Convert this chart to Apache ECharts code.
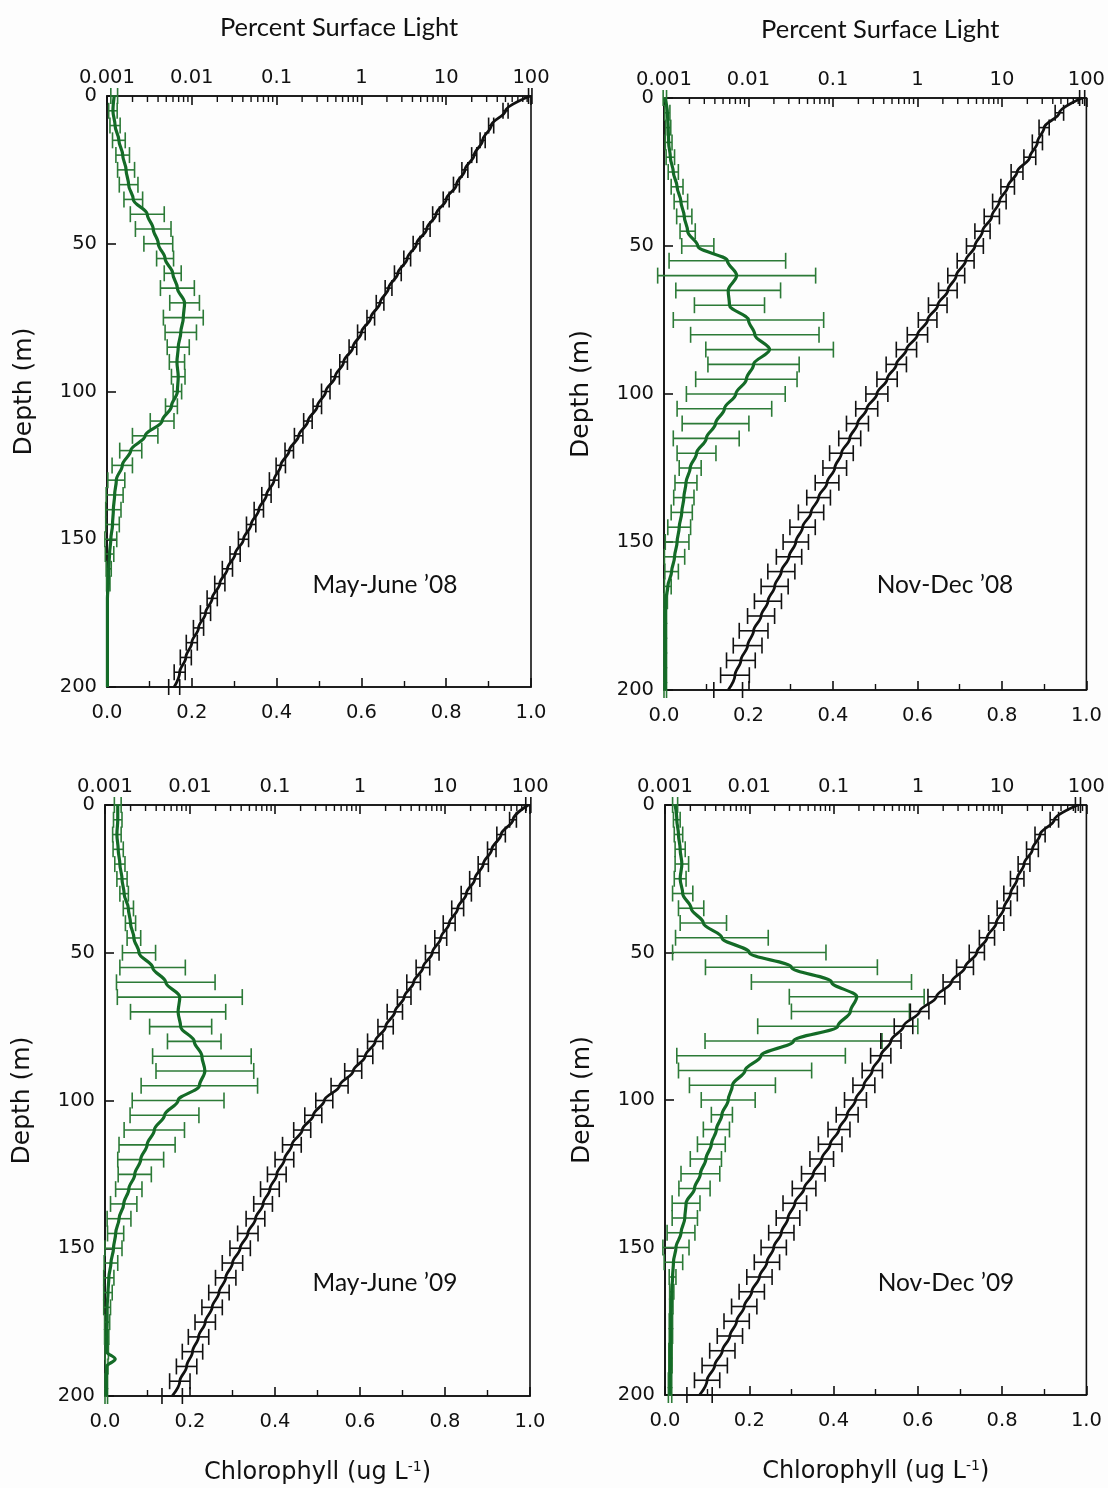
<!DOCTYPE html>
<html><head><meta charset="utf-8">
<script src="https://cdn.jsdelivr.net/npm/echarts@6/dist/echarts.min.js"></script>
<style>html,body{margin:0;padding:0;background:#fdfdfd;}#c{width:1108px;height:1488px;}</style>
</head><body><div id="c"></div>
<script>
// ---------- data (depth in m, every 5 m) ----------
const depths = [0,5,10,15,20,25,30,35,40,45,50,55,60,65,70,75,80,85,90,95,100,105,110,115,120,125,130,135,140,145,150,155,160,165,170,175,180,185,190,195,200];

// Chlorophyll (ug/L), bottom axis
const chlMJ08 = [0.017,0.014,0.019,0.028,0.037,0.045,0.051,0.062,0.095,0.109,0.121,0.137,0.155,0.166,0.183,0.18,0.174,0.168,0.165,0.168,0.166,0.152,0.13,0.09,0.056,0.036,0.022,0.018,0.015,0.013,0.009,0.006,0.004,0.003,0.001,0.001,0.001,0.001,0.001,0.001,0.001];
const chlErrMJ08 = [0.008,0.01,0.012,0.015,0.016,0.02,0.022,0.022,0.04,0.042,0.034,0.02,0.02,0.04,0.035,0.047,0.037,0.026,0.018,0.016,0.01,0.014,0.028,0.03,0.026,0.024,0.02,0.02,0.018,0.016,0.014,0.01,0.006,0.004,0,0,0,0,0,0,0];
const chlND08 = [0.002,0.008,0.01,0.011,0.015,0.022,0.031,0.04,0.048,0.056,0.08,0.15,0.172,0.152,0.155,0.2,0.215,0.25,0.212,0.195,0.17,0.143,0.122,0.1,0.077,0.062,0.052,0.047,0.042,0.036,0.031,0.025,0.018,0.009,0.004,0.003,0.003,0.003,0.003,0.003,0.003];
const chlErrND08 = [0.004,0.006,0.006,0.008,0.01,0.012,0.014,0.016,0.018,0.018,0.038,0.138,0.187,0.124,0.083,0.178,0.152,0.151,0.108,0.12,0.117,0.112,0.079,0.078,0.046,0.026,0.026,0.024,0.025,0.027,0.028,0.024,0.016,0.008,0.004,0.003,0.003,0.003,0.003,0.003,0.003];
const chlMJ09 = [0.03,0.03,0.028,0.031,0.035,0.04,0.045,0.055,0.06,0.068,0.08,0.112,0.143,0.176,0.172,0.178,0.21,0.228,0.235,0.222,0.172,0.14,0.116,0.099,0.084,0.07,0.056,0.044,0.033,0.025,0.02,0.014,0.009,0.007,0.005,0.005,0.004,0.004,0.004,0.003,0.003];
const chlErrMJ09 = [0.008,0.01,0.01,0.012,0.012,0.012,0.01,0.012,0.012,0.016,0.039,0.077,0.116,0.147,0.112,0.073,0.063,0.116,0.115,0.137,0.108,0.081,0.071,0.066,0.054,0.039,0.031,0.031,0.028,0.019,0.02,0.016,0.012,0.01,0.008,0.006,0.005,0.004,0.003,0.003,0.003];
const chlSpikeMJ09 = [[187.5,0.024]]; // [depth, value]
const chlND09 = [0.024,0.028,0.032,0.036,0.04,0.036,0.042,0.062,0.091,0.135,0.2,0.3,0.395,0.455,0.44,0.41,0.305,0.228,0.19,0.16,0.15,0.135,0.122,0.11,0.097,0.084,0.07,0.05,0.047,0.038,0.026,0.02,0.018,0.016,0.015,0.014,0.014,0.013,0.013,0.012,0.012];
const chlErrND09 = [0.006,0.008,0.01,0.012,0.016,0.014,0.024,0.03,0.055,0.11,0.182,0.204,0.19,0.16,0.14,0.19,0.21,0.2,0.158,0.102,0.064,0.025,0.031,0.033,0.037,0.046,0.037,0.033,0.03,0.033,0.031,0.022,0.008,0.005,0.004,0.004,0.004,0.004,0.004,0.004,0.004];

// Percent surface light, top log axis; error = half-width in decades
const lightMJ08 = [98,50.1,33.9,26.9,21.4,16.6,13.2,10.0,7.59,5.89,4.47,3.47,2.69,2.09,1.66,1.29,1.00,0.794,0.617,0.490,0.380,0.302,0.234,0.182,0.141,0.112,0.0933,0.0759,0.0617,0.0501,0.0407,0.0324,0.0263,0.0214,0.0174,0.0145,0.0120,0.0100,0.0085,0.0072,0.0062];
const lightErrMJ08 = [0.02,0.03,0.03,0.03,0.03,0.035,0.035,0.035,0.04,0.04,0.04,0.04,0.04,0.04,0.045,0.045,0.045,0.045,0.045,0.05,0.05,0.05,0.05,0.05,0.05,0.055,0.055,0.055,0.055,0.055,0.06,0.06,0.06,0.06,0.06,0.06,0.06,0.065,0.065,0.065,0.065];
const lightND08 = [89.1,47.9,31.6,26.3,21.4,15.1,11.7,9.33,7.59,5.89,4.79,3.72,2.88,2.29,1.74,1.32,1.00,0.741,0.562,0.437,0.331,0.251,0.195,0.158,0.126,0.105,0.0851,0.0676,0.0550,0.0437,0.0363,0.0302,0.0245,0.0204,0.0170,0.0141,0.0115,0.00977,0.00813,0.00692,0.00575];
const lightErrND08 = [0.03,0.05,0.06,0.06,0.07,0.07,0.08,0.08,0.09,0.09,0.1,0.1,0.1,0.11,0.11,0.11,0.12,0.12,0.12,0.12,0.13,0.13,0.13,0.13,0.14,0.14,0.14,0.14,0.15,0.15,0.15,0.15,0.16,0.16,0.16,0.16,0.17,0.17,0.17,0.17,0.17];
const lightMJ09 = [95.5,63.1,45.7,35.5,28.2,22.4,17.8,14.1,11.2,8.91,7.08,5.50,4.27,3.31,2.57,2.00,1.51,1.15,0.832,0.575,0.380,0.282,0.209,0.158,0.129,0.105,0.0871,0.0724,0.0589,0.0479,0.0389,0.0316,0.0263,0.0219,0.0182,0.0151,0.0126,0.0107,0.00912,0.00759,0.00617];
const lightErrMJ09 = [0.03,0.04,0.05,0.05,0.06,0.06,0.06,0.07,0.07,0.07,0.08,0.08,0.08,0.08,0.09,0.09,0.09,0.09,0.1,0.1,0.1,0.1,0.1,0.11,0.11,0.11,0.11,0.11,0.11,0.12,0.12,0.12,0.12,0.12,0.12,0.12,0.12,0.12,0.12,0.12,0.12];
const lightND09 = [79.4,41.7,28.2,22.9,18.2,15.1,12.6,10.5,8.51,6.61,5.01,3.63,2.51,1.66,1.05,0.676,0.479,0.363,0.288,0.229,0.182,0.145,0.116,0.0912,0.0724,0.0575,0.0447,0.0347,0.0288,0.0240,0.0195,0.0162,0.0132,0.0107,0.00871,0.00708,0.00589,0.00479,0.00389,0.00316,0.00257];
const lightErrND09 = [0.03,0.05,0.06,0.07,0.07,0.08,0.08,0.08,0.09,0.09,0.09,0.1,0.1,0.1,0.11,0.11,0.12,0.12,0.12,0.13,0.13,0.13,0.13,0.14,0.14,0.14,0.14,0.14,0.14,0.15,0.15,0.15,0.15,0.15,0.15,0.15,0.15,0.15,0.15,0.15,0.15];

const panelLabels = ['May-June \u201908', 'Nov-Dec \u201908', 'May-June \u201909', 'Nov-Dec \u201909'];
const lightTickLabels = ['0.001','0.01','0.1','1','10','100'];
const depthTicks = [0,50,100,150,200];

// ---------- layout ----------
const GREEN = '#146b27', GREEN_BAR = '#2c7a37', BLACK = '#111111';
const NUMFONT = 'DejaVu Sans';
const panels = [
  {grid:{left:107,top:96,width:424,height:591}, chl:chlMJ08, chlErr:chlErrMJ08, light:lightMJ08, lightErr:lightErrMJ08, spike:[], label:panelLabels[0], lx:385, ly:585, top:true, titleShift:40},
  {grid:{left:664,top:98,width:424,height:592}, chl:chlND08, chlErr:chlErrND08, light:lightND08, lightErr:lightErrND08, spike:[], label:panelLabels[1], lx:945, ly:585, top:true, titleShift:10},
  {grid:{left:105,top:805,width:425,height:591}, chl:chlMJ09, chlErr:chlErrMJ09, light:lightMJ09, lightErr:lightErrMJ09, spike:chlSpikeMJ09, label:panelLabels[2], lx:385, ly:1283, top:false, titleShift:0},
  {grid:{left:665,top:805,width:423,height:590}, chl:chlND09, chlErr:chlErrND09, light:lightND09, lightErr:lightErrND09, spike:[], label:panelLabels[3], lx:946, ly:1283, top:false, titleShift:0}
];

function errRenderer(isLog, color, half){
  return function(params, api){
    const v = api.value(0), d = api.value(1), e = api.value(2);
    if (!(e > 0)) return null;
    let lo, hi;
    if (isLog){ const f = Math.pow(10, e); lo = v / f; hi = v * f; } else { lo = v - e; hi = v + e; }
    const a = api.coord([lo, d]), b = api.coord([hi, d]);
    const st = {stroke: color, lineWidth: 1.6, fill: null};
    return {type:'group', children:[
      {type:'line', shape:{x1:a[0], y1:a[1], x2:b[0], y2:b[1]}, style:st},
      {type:'line', shape:{x1:a[0], y1:a[1]-half, x2:a[0], y2:a[1]+half}, style:st},
      {type:'line', shape:{x1:b[0], y1:b[1]-half, x2:b[0], y2:b[1]+half}, style:st}
    ]};
  };
}

// minor log tick values (2..9 within each decade) - axis decoration
const logMinor = [];
for (let ex = -3; ex < 2; ex++) for (let k = 2; k <= 9; k++) logMinor.push(k * Math.pow(10, ex));

const grids = [], xAxes = [], yAxes = [], series = [], graphics = [];
const axisLineStyle = {color: BLACK, width: 1.6};
const numLabel = {fontSize:19.5, fontFamily:NUMFONT, color:BLACK};

panels.forEach((p, i) => {
  grids.push(Object.assign({show:true, borderColor:BLACK, borderWidth:1.6, backgroundColor:'transparent'}, p.grid));
  // bottom chlorophyll axis
  xAxes.push({
    type:'value', gridIndex:i, position:'bottom', min:0, max:1, interval:0.2,
    axisLine:{show:true, onZero:false, lineStyle:axisLineStyle},
    axisTick:{show:true, inside:true, length:9, lineStyle:axisLineStyle},
    minorTick:{show:true, splitNumber:2, length:6, lineStyle:{color:BLACK, width:1.4}},
    splitLine:{show:false}, minorSplitLine:{show:false},
    axisLabel:Object.assign({formatter:v => v.toFixed(1), margin:16}, numLabel),
    name: p.top ? '' : '{a|Chlorophyll (ug L}{s|-1}{a|)}',
    nameLocation:'middle', nameGap:64,
    nameTextStyle:{rich:{a:{fontSize:24, fontFamily:NUMFONT, color:BLACK}, s:{fontSize:14, fontFamily:NUMFONT, color:BLACK, verticalAlign:'top', padding:[0,0,11,0]}}}
  });
  // top light axis (log)
  xAxes.push({
    type:'log', logBase:10, gridIndex:i, position:'top', min:0.001, max:100,
    axisLine:{show:true, onZero:false, lineStyle:axisLineStyle},
    axisTick:{show:true, inside:true, length:9, lineStyle:axisLineStyle},
    minorTick:{show:false}, splitLine:{show:false},
    axisLabel:Object.assign({formatter:v => lightTickLabels[Math.round(Math.log10(v)) + 3], margin:8}, numLabel),
    name: p.top ? 'Percent Surface Light' : '',
    nameLocation:'middle', nameGap:55,
    nameTextStyle:{fontSize:25.5, fontFamily:'Lato', color:BLACK, padding:[0,0,0,p.titleShift]}
  });
  yAxes.push({
    type:'value', gridIndex:i, min:0, max:200, interval:50, inverse:true,
    axisLine:{show:true, onZero:false, lineStyle:axisLineStyle},
    axisTick:{show:true, inside:true, length:9, lineStyle:axisLineStyle},
    splitLine:{show:false},
    axisLabel:Object.assign({formatter:v => String(depthTicks[depthTicks.indexOf(v)]), margin:10}, numLabel),
    name:'Depth (m)', nameLocation:'middle', nameGap:70, nameRotate:90,
    nameTextStyle:{fontSize:25, fontFamily:NUMFONT, color:BLACK}
  });
  const xb = 2*i, xt = 2*i + 1;
  // chlorophyll line (with any extra points)
  const chlLine = depths.map((d, k) => [p.chl[k], d]);
  p.spike.forEach(s => chlLine.push([s[1], s[0]]));
  chlLine.sort((a, b) => a[1] - b[1]);
  series.push({type:'custom', xAxisIndex:xb, yAxisIndex:i, renderItem:errRenderer(false, GREEN_BAR, 8),
    data: depths.map((d, k) => [p.chl[k], d, p.chlErr[k]]), z:2, silent:true, animation:false});
  series.push({type:'line', xAxisIndex:xb, yAxisIndex:i, data:chlLine, showSymbol:false, symbol:'none',
    smooth:0.35, smoothMonotone:'y',
    lineStyle:{color:GREEN, width:3.2}, z:3, animation:false, silent:true});
  series.push({type:'custom', xAxisIndex:xt, yAxisIndex:i, renderItem:errRenderer(true, BLACK, 8),
    data: depths.map((d, k) => [p.light[k], d, p.lightErr[k]]), z:2, silent:true, animation:false});
  series.push({type:'line', xAxisIndex:xt, yAxisIndex:i, data: depths.map((d, k) => [p.light[k], d]), showSymbol:false, symbol:'none',
    smooth:0.35, smoothMonotone:'y',
    lineStyle:{color:BLACK, width:2.8}, z:3, animation:false, silent:true});
  // minor log ticks on top axis
  series.push({type:'custom', xAxisIndex:xt, yAxisIndex:i, silent:true, animation:false, z:4,
    data: logMinor.map(v => [v, 0]),
    renderItem:function(params, api){
      const c = api.coord([api.value(0), 0]);
      return {type:'line', shape:{x1:c[0], y1:c[1], x2:c[0], y2:c[1]+6}, style:{stroke:BLACK, lineWidth:1.4}};
    }});
  graphics.push({type:'text', x:p.lx, y:p.ly, style:{text:p.label, fontSize:24.5, fontFamily:'Lato', fill:BLACK,
    align:'center', verticalAlign:'middle', textAlign:'center', textVerticalAlign:'middle'}});
});

const chart = echarts.init(document.getElementById('c'), null, {renderer:'canvas'});
chart.setOption({
  backgroundColor:'#fdfdfd', animation:false,
  grid:grids, xAxis:xAxes, yAxis:yAxes, series:series, graphic:graphics
});
</script></body></html>
